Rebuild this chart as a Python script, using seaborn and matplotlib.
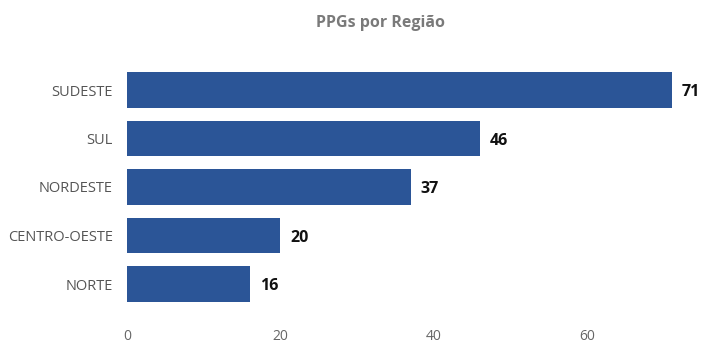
import matplotlib
matplotlib.use("Agg")
import matplotlib.pyplot as plt
import seaborn as sns
import pandas as pd

regioes = ["SUDESTE", "SUL", "NORDESTE", "CENTRO-OESTE", "NORTE"]
valores = [71, 46, 37, 20, 16]
xticks = [0, 20, 40, 60]

sns.set_theme(style="white")
plt.rcParams['font.family'] = ['Open Sans', 'DejaVu Sans']

df = pd.DataFrame({"regiao": regioes, "valor": valores})

W, H = 701, 343
fig = plt.figure(figsize=(W / 100, H / 100), dpi=100)
left, right, top, bottom = 127, 690, 65.75, 308.25
ax = fig.add_axes([left / W, (H - bottom) / H, (right - left) / W, (bottom - top) / H])

sns.barplot(data=df, y="regiao", x="valor", color="#2B5597", saturation=1,
            width=0.74, ax=ax, orient="h", linewidth=0)

ax.set_xlim(0, (right - left) / 7.67)
ax.set_ylim(4.5, -0.5)
ax.set_xticks(xticks)
ax.set_xticklabels([str(t) for t in xticks])
ax.tick_params(axis="x", length=0, pad=15, labelsize=10, labelcolor="#666666")
ax.tick_params(axis="y", length=0, pad=10, labelsize=10.5, labelcolor="#555555")
ax.set_xlabel("")
ax.set_ylabel("")
for s in ax.spines.values():
    s.set_visible(False)

for i, v in enumerate(valores):
    ax.text(v + 1.3, i + 0.05, str(v), va="center", ha="left", fontsize=11.5,
            fontweight="bold", color="#111111", clip_on=False)

fig.text(380 / W, (H - 23) / H, "PPGs por Região", ha="center", va="center",
         fontsize=11.5, fontweight="bold", color="#7a7a7a")

fig.savefig("out.png", dpi=100, facecolor="white")
